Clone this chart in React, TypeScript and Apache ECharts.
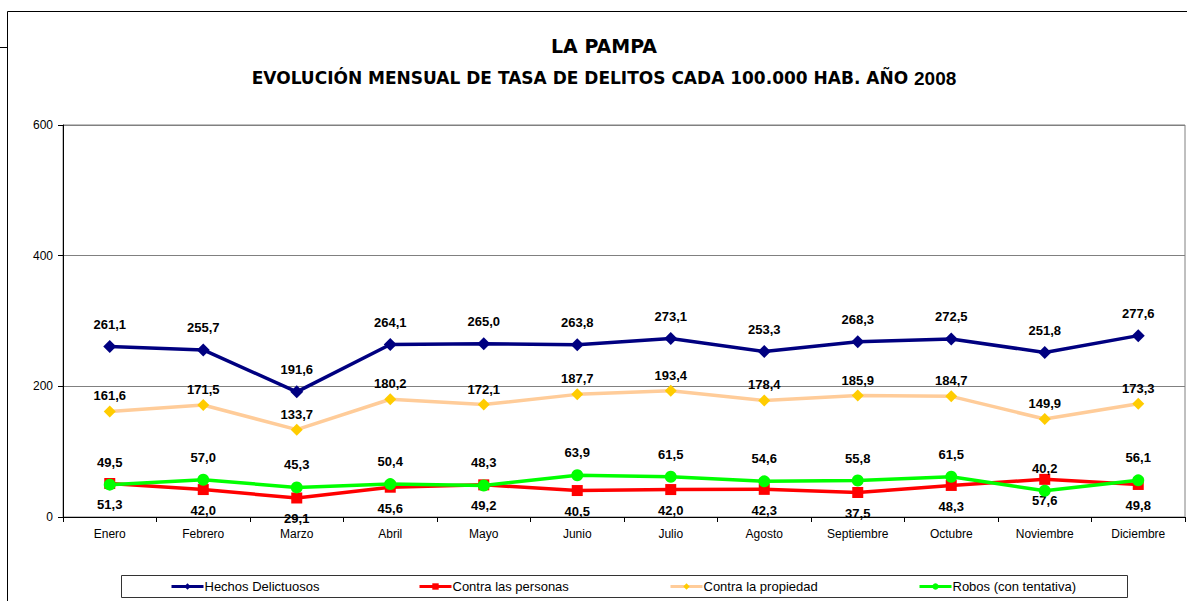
import React, { useEffect, useRef } from "react";
import * as echarts from "echarts";

const months = ["Enero", "Febrero", "Marzo", "Abril", "Mayo", "Junio", "Julio", "Agosto", "Septiembre", "Octubre", "Noviembre", "Diciembre"];
const hechos = [261.1, 255.7, 191.6, 264.1, 265.0, 263.8, 273.1, 253.3, 268.3, 272.5, 251.8, 277.6];
const personas = [51.3, 42.0, 29.1, 45.6, 49.2, 40.5, 42.0, 42.3, 37.5, 48.3, 57.6, 49.8];
const propiedad = [161.6, 171.5, 133.7, 180.2, 172.1, 187.7, 193.4, 178.4, 185.9, 184.7, 149.9, 173.3];
const robos = [49.5, 57.0, 45.3, 50.4, 48.3, 63.9, 61.5, 54.6, 55.8, 61.5, 40.2, 56.1];
const seriesNames = ["Hechos Delictuosos", "Contra las personas", "Contra la propiedad", "Robos (con tentativa)"];
const yTicks = { min: 0, max: 600, interval: 200 };

const FONT = "'Liberation Sans', Arial, sans-serif";
const fmt = (p: any) => Number(p.value).toFixed(1).replace(".", ",");

export default function App() {
  const ref = useRef<HTMLDivElement>(null);
  useEffect(() => {
    if (!ref.current) return;
    const chart = echarts.init(ref.current, undefined, { renderer: "svg" });
    const label = (position: string, distance: number) => ({
      show: true,
      position,
      distance,
      formatter: fmt,
      fontFamily: FONT,
      fontSize: 13,
      fontWeight: "bold",
      color: "#000",
    });
    const legendAt = (name: string, left: number) => ({
      data: [name],
      left,
      top: 580,
      padding: 0,
      itemWidth: 32,
      itemHeight: 8,
      lineStyle: { width: 3 },
      textStyle: { fontFamily: FONT, fontSize: 13, color: "#000", padding: [0, 0, 0, -4] },
    });
    chart.setOption({
      animation: false,
      backgroundColor: "#fff",
      textStyle: { fontFamily: FONT },
      graphic: [
        { type: "rect", shape: { x: 7.5, y: 11.5, width: 1300, height: 700 }, style: { fill: "none", stroke: "#000", lineWidth: 1 }, silent: true },
        { type: "line", shape: { x1: 0, y1: 47.5, x2: 7, y2: 47.5 }, style: { stroke: "#000", lineWidth: 1 }, silent: true },
        { type: "rect", shape: { x: 121.5, y: 575.5, width: 1006, height: 22 }, style: { fill: "none", stroke: "#333", lineWidth: 1 }, silent: true },
        {
          type: "text",
          x: 604,
          y: 46,
          style: { text: "LA PAMPA", align: "center", verticalAlign: "middle", font: "bold 19px 'DejaVu Sans', sans-serif", fill: "#000" },
        },
        {
          type: "text",
          x: 604,
          y: 78,
          style: {
            text: "{a|EVOLUCIÓN MENSUAL DE TASA DE DELITOS CADA 100.000 HAB. AÑO }{b|2008}",
            align: "center",
            verticalAlign: "middle",
            rich: {
              a: { fontFamily: "'DejaVu Sans', sans-serif", fontWeight: "bold", fontSize: 17, fill: "#000", color: "#000" },
              b: { fontFamily: FONT, fontWeight: "bold", fontSize: 19, fill: "#000", color: "#000" },
            },
          },
        },
      ],
      legend: [
        legendAt(seriesNames[0], 170),
        legendAt(seriesNames[1], 418),
        legendAt(seriesNames[2], 669),
        legendAt(seriesNames[3], 918),
      ],
      grid: { left: 63, top: 125, width: 1122, height: 392, show: true, borderColor: "#808080", borderWidth: 1, backgroundColor: "transparent" },
      xAxis: {
        type: "category",
        data: months,
        boundaryGap: true,
        axisLine: { lineStyle: { color: "#000", width: 1 } },
        axisTick: { show: true, length: 5, lineStyle: { color: "#000" } },
        axisLabel: { fontFamily: FONT, fontSize: 12, color: "#000", margin: 11 },
        splitLine: { show: false },
      },
      yAxis: {
        type: "value",
        min: yTicks.min,
        max: yTicks.max,
        interval: yTicks.interval,
        axisLine: { show: true, lineStyle: { color: "#000", width: 1 } },
        axisTick: { show: true, length: 5, lineStyle: { color: "#000" } },
        axisLabel: { fontFamily: FONT, fontSize: 12, color: "#000", margin: 10 },
        splitLine: { show: true, lineStyle: { color: "#808080", width: 1 } },
      },
      series: [
        {
          name: seriesNames[0],
          type: "line",
          data: hechos,
          symbol: "diamond",
          symbolSize: 13,
          itemStyle: { color: "#000080" },
          lineStyle: { color: "#000080", width: 3.5 },
          label: label("top", 9),
          z: 5,
        },
        {
          name: seriesNames[1],
          type: "line",
          data: personas,
          symbol: "rect",
          symbolSize: 11,
          itemStyle: { color: "#FF0000" },
          lineStyle: { color: "#FF0000", width: 3.5 },
          label: label("bottom", 9),
          z: 2,
        },
        {
          name: seriesNames[2],
          type: "line",
          data: propiedad,
          symbol: "diamond",
          symbolSize: 12,
          itemStyle: { color: "#FFCC00" },
          lineStyle: { color: "#FFCC99", width: 3.5 },
          label: label("top", 3),
          z: 3,
        },
        {
          name: seriesNames[3],
          type: "line",
          data: robos,
          symbol: "circle",
          symbolSize: 12,
          itemStyle: { color: "#00FF00" },
          lineStyle: { color: "#00FF00", width: 3.5 },
          label: label("top", 10),
          z: 4,
        },
      ],
    });
    return () => chart.dispose();
  }, []);
  return <div ref={ref} style={{ position: "absolute", left: 0, top: 0, width: 1187, height: 601 }} />;
}
